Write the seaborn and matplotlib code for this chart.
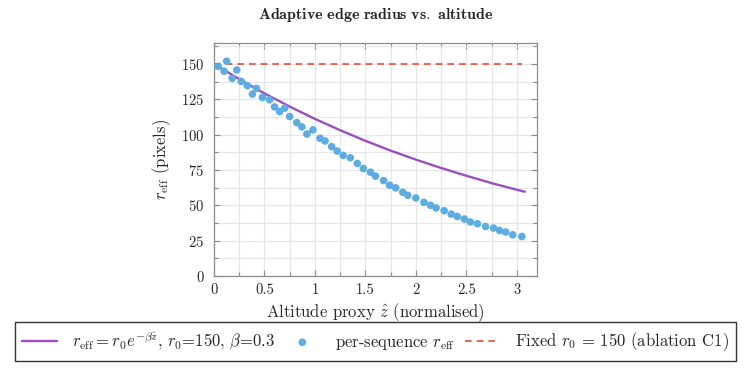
import matplotlib.pyplot as plt
import numpy as np
import pandas as pd
import seaborn as sns
from matplotlib.ticker import MultipleLocator

# model curve r_eff = r0 * exp(-beta * z)
curve_z = [0, 0.25, 0.5, 0.75, 1.0, 1.25, 1.5, 1.75, 2.0, 2.25, 2.5, 2.75, 3.0, 3.08]
curve_r = [150, 139.2, 129.1, 119.8, 111.1, 103.1, 95.6, 88.7, 82.3, 76.4, 70.9, 65.7, 61.0, 59.6]

# per-sequence measurements
seq_z = [0.04, 0.10, 0.125, 0.18, 0.225, 0.27, 0.33, 0.38, 0.42, 0.48,
         0.55, 0.60, 0.65, 0.70, 0.75, 0.82, 0.87, 0.92, 0.98, 1.05,
         1.10, 1.165, 1.22, 1.28, 1.35, 1.42, 1.48, 1.55, 1.60, 1.68,
         1.74, 1.80, 1.87, 1.92, 2.00, 2.08, 2.145, 2.20, 2.28, 2.35,
         2.41, 2.48, 2.54, 2.61, 2.69, 2.77, 2.83, 2.89, 2.96, 3.05]
seq_r = [148.3, 144.8, 151.9, 139.8, 145.7, 137.6, 134.6, 128.6, 132.7, 126.3,
         124.6, 119.6, 116.3, 118.7, 112.8, 108.5, 105.4, 100.4, 103.3, 97.4,
         95.5, 91.5, 88.4, 85.3, 83.6, 79.6, 76.0, 73.4, 70.6, 67.5,
         64.2, 62.3, 59.2, 57.1, 55.2, 52.1, 50.0, 48.1, 46.2, 43.8,
         42.1, 40.3, 38.2, 37.0, 35.0, 33.9, 32.2, 31.1, 29.1, 27.9]

# fixed radius baseline (ablation C1)
fixed_z = [0, 3.05]
fixed_r = [150, 150]

purple = "#9B4FBF"
blue = "#5DADE2"
red = "#E74C3C"

sns.set_theme(style = "whitegrid")
plt.rcParams.update({
    "font.family": ["cmr10", "DejaVu Serif"],
    "mathtext.fontset": "cm",
    "axes.formatter.use_mathtext": True,
    "axes.edgecolor": "#8c8c8c",
    "axes.linewidth": 0.9,
    "grid.color": "#e6e6e6",
    "grid.linewidth": 0.9,
    })

fig, ax = plt.subplots(figsize = (7.51, 3.68), dpi = 100)
fig.subplots_adjust(left = 0.285, right = 0.715, bottom = 0.25, top = 0.884)

curve = pd.DataFrame({"z": curve_z, "r": curve_r})
seq = pd.DataFrame({"z": seq_z, "r": seq_r})
fixed = pd.DataFrame({"z": fixed_z, "r": fixed_r})

sns.lineplot(
    data = curve, x = "z", y = "r", ax = ax, color = purple, linewidth = 1.7,
    label = r"$r_{\mathrm{eff}} = r_0 e^{-\beta \hat{z}}$, $r_0$=150, $\beta$=0.3"
    )
sns.scatterplot(
    data = seq, x = "z", y = "r", ax = ax, color = blue, s = 30,
    edgecolor = "none", label = r"per-sequence $r_{\mathrm{eff}}$", zorder = 3
    )
sns.lineplot(
    data = fixed, x = "z", y = "r", ax = ax, color = red, linewidth = 1.2,
    linestyle = (0, (4, 3)), label = r"Fixed $r_0$ = 150 (ablation C1)"
    )

ax.set_xlim(0, 3.2)
ax.set_ylim(0, 165)
ax.xaxis.set_major_locator(MultipleLocator(0.5))
ax.xaxis.set_minor_locator(MultipleLocator(0.25))
ax.yaxis.set_major_locator(MultipleLocator(25))
ax.yaxis.set_minor_locator(MultipleLocator(12.5))
ax.set_xticks([0, 0.5, 1, 1.5, 2, 2.5, 3])
ax.set_xticklabels(["0", "0.5", "1", "1.5", "2", "2.5", "3"])
ax.grid(True, which = "both")
ax.tick_params(
    which = "both", direction = "in", top = True, right = True,
    bottom = True, left = True, color = "#8c8c8c", labelsize = 10.5
    )
ax.tick_params(which = "major", length = 4, width = 0.8)
ax.tick_params(which = "minor", length = 3, width = 0.8)
ax.tick_params(axis = "x", pad = 5)
ax.tick_params(axis = "y", pad = 7)
for s in ax.spines.values():
    s.set_visible(True)

ax.set_xlabel(r"Altitude proxy $\hat{z}$ (normalised)", fontsize = 12, labelpad = 3)
ax.set_ylabel(r"$r_{\mathrm{eff}}$ (pixels)", fontsize = 12, labelpad = 6)
ax.set_title(
    r"$\mathbf{Adaptive\ edge\ radius\ vs.\ altitude}$", fontsize = 11.5, pad = 17
    )

handles, labels = ax.get_legend_handles_labels()
ax.get_legend().remove()
fig.legend(
    handles, labels, loc = "lower center", bbox_to_anchor = (0.5, 0.01),
    ncol = 3, fontsize = 12, frameon = True, fancybox = False,
    edgecolor = "#333333", framealpha = 1, handlelength = 2.1,
    handletextpad = 0.9, columnspacing = 0.6, borderpad = 0.45,
    borderaxespad = 0.2
    )

fig.savefig("out.png", dpi = 100)
